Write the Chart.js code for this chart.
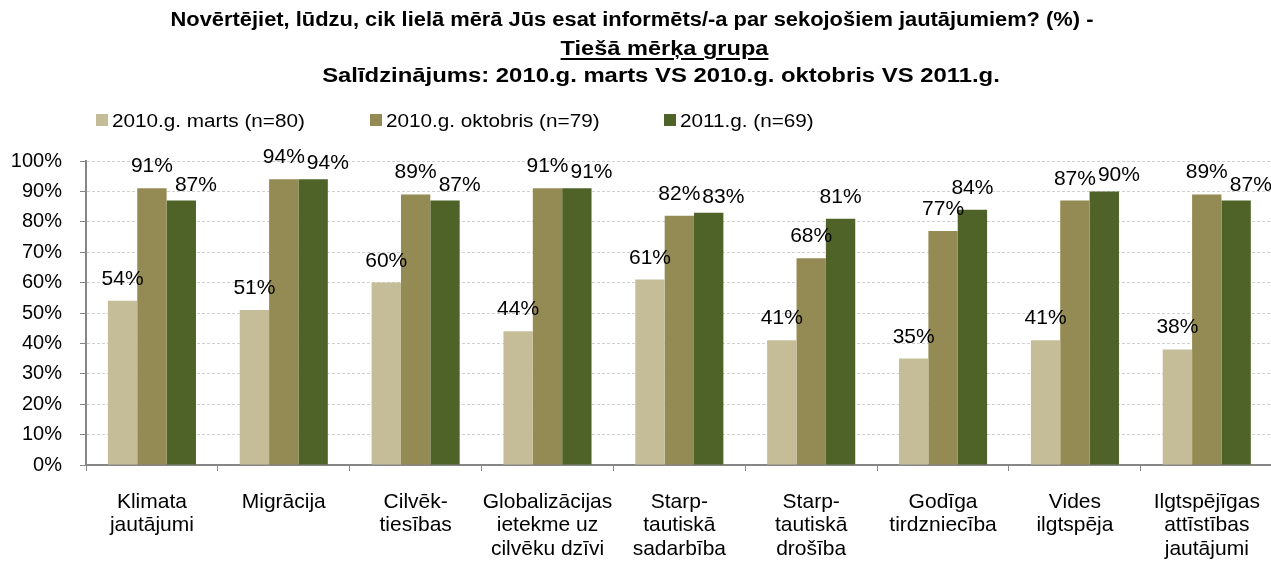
<!DOCTYPE html>
<html>
<head>
<meta charset="utf-8">
<script src="https://cdn.jsdelivr.net/npm/chart.js@4.4.1/dist/chart.umd.min.js"></script>
<style>
    body { margin: 0; background: #fff; font-family: "Liberation Sans", Arial, sans-serif; }
    #wrap { position: relative; width: 1271px; height: 561px; overflow: hidden; }
    #chart { position: absolute; left: 0; top: 0; }
    .title { position: absolute; left: 0; text-align: center; font-weight: bold; font-size: 20px;
             line-height: 28px; color: #000; white-space: nowrap; }
    .title u { text-decoration-thickness: 2px; text-underline-offset: 3px; }
    .legend-box { position: absolute; width: 12px; height: 12px; top: 114px; }
    .legend-text { position: absolute; top: 110px; font-size: 19px; line-height: 21px; color: #000;
                   transform: scaleX(1.09); transform-origin: left center; white-space: nowrap; }
</style>
</head>
<body>
<div id="wrap">
    <canvas id="chart" width="1280" height="561"></canvas>
    <div class="title" style="top:5px;width:1264px;transform:scaleX(1.094)">Novērtējiet, lūdzu, cik lielā mērā Jūs esat informēts/-a par sekojošiem jautājumiem? (%) -</div>
    <div class="title" style="top:34px;width:1329px;transform:scaleX(1.178)"><u>Tiešā mērķa grupa</u></div>
    <div class="title" style="top:61px;width:1322px;transform:scaleX(1.193)">Salīdzinājums: 2010.g. marts VS 2010.g. oktobris VS 2011.g.</div>
    <div id="legend"></div>
</div>
<script>
const categories = [
    ['Klimata', 'jautājumi'],
    ['Migrācija'],
    ['Cilvēk-', 'tiesības'],
    ['Globalizācijas', 'ietekme uz', 'cilvēku dzīvi'],
    ['Starp-', 'tautiskā', 'sadarbība'],
    ['Starp-', 'tautiskā', 'drošība'],
    ['Godīga', 'tirdzniecība'],
    ['Vides', 'ilgtspēja'],
    ['Ilgtspējīgas', 'attīstības', 'jautājumi']
];
const seriesNames = ['2010.g. marts (n=80)', '2010.g. oktobris (n=79)', '2011.g. (n=69)'];
const march2010 = [54, 51, 60, 44, 61, 41, 35, 41, 38];
const october2010 = [91, 94, 89, 91, 82, 68, 77, 87, 89];
const year2011 = [87, 94, 87, 91, 83, 81, 84, 90, 87];
const yTicks = [0, 10, 20, 30, 40, 50, 60, 70, 80, 90, 100];

const COLORS = ['#c4bd97', '#948a54', '#4f6228'];
const AXIS = '#868686';

// legend in html, laid out like the original
const legendLeft = [96, 370, 664];
document.getElementById('legend').innerHTML = seriesNames.map((name, i) => `
    <div class="legend-box" style="left:${legendLeft[i]}px;background:${COLORS[i]}"></div>
    <div class="legend-text" style="left:${legendLeft[i] + 16}px">${name}</div>
`).join('');

// value labels above the bars, nudged right when two in a group collide
const valueLabels = {
    id: 'valueLabels',
    afterDatasetsDraw(chart) {
        const ctx = chart.ctx;
        ctx.save();
        ctx.font = '21px "Liberation Sans", Arial, sans-serif';
        ctx.fillStyle = '#000';
        ctx.textAlign = 'center';
        ctx.textBaseline = 'alphabetic';
        for (let j = 0; j < chart.data.labels.length; j++) {
            let prev = null;
            chart.data.datasets.forEach((ds, i) => {
                const bar = chart.getDatasetMeta(i).data[j];
                const txt = ds.data[j] + '%';
                const w = ctx.measureText(txt).width;
                let x = bar.x, y = bar.y - 16;
                if (prev && x - w / 2 < prev.r && y - 15 < prev.b && y > prev.b - 15) {
                    x = prev.r + 2 + w / 2;
                    y += 6;
                }
                ctx.fillText(txt, x, y);
                prev = {r: x + w / 2, b: y};
            });
        }
        ctx.restore();
    }
};

const datasets = [march2010, october2010, year2011].map((data, i) => ({
    label: seriesNames[i],
    data: data,
    backgroundColor: COLORS[i],
    borderWidth: 0,
    barPercentage: 1,
    categoryPercentage: 0.668
}));

new Chart(document.getElementById('chart'), {
    type: 'bar',
    data: { labels: categories, datasets: datasets },
    plugins: [valueLabels],
    options: {
        responsive: false,
        animation: false,
        devicePixelRatio: 1,
        layout: { padding: { top: 161, left: 0, right: 2, bottom: 0 } },
        plugins: {
            legend: { display: false },
            title: { display: false },
            tooltip: { enabled: false }
        },
        scales: {
            x: {
                afterFit: s => { s.height = 96; },
                grid: { offset: true, drawOnChartArea: false, tickLength: 6, color: AXIS, tickColor: AXIS },
                border: { color: AXIS, width: 2 },
                ticks: {
                    autoSkip: false, maxRotation: 0, padding: 20, color: '#000',
                    font: { family: '"Liberation Sans", Arial, sans-serif', size: 21, lineHeight: 1.1 }
                }
            },
            y: {
                min: 0, max: 100,
                afterFit: s => { s.width = 86; },
                afterBuildTicks: s => { s.ticks = yTicks.map(v => ({value: v})); },
                grid: { color: '#d0d0d0', tickColor: AXIS, tickLength: 6, lineWidth: 1 },
                border: { color: AXIS, width: 2, dash: [3, 2] },
                ticks: {
                    padding: 18, color: '#000',
                    callback: v => v + '%',
                    font: { family: '"Liberation Sans", Arial, sans-serif', size: 20 }
                }
            }
        }
    }
});
</script>
</body>
</html>
